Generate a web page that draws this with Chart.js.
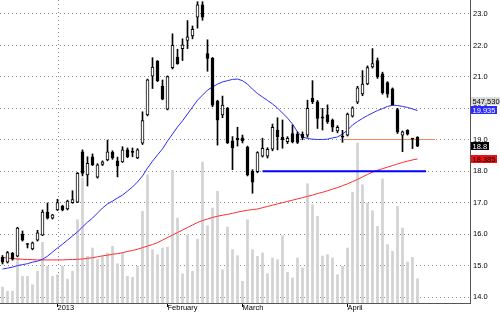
<!DOCTYPE html>
<html lang="en">
<head>
<meta charset="UTF-8">
<title>Daily price chart</title>
<script src="https://cdn.jsdelivr.net/npm/chart.js"></script>
<style>
  html, body { margin: 0; padding: 0; background: #fff; }
</style>
</head>
<body>
<canvas id="chart" width="500" height="312"></canvas>
<script>
// month boundaries on the date axis (index of first session)
const monthLabels = ['2013', 'February', 'March', 'April'];
const monthStart = [11, 33, 48, 69];
const priceTicks = [14, 15, 16, 17, 18, 19, 20, 21, 22, 23];

const opens = [15.27, 15.11, 15.39, 15.30, 16.00, 15.69, 15.53, 15.81, 15.97, 16.70,
  16.51, 16.77, 16.89, 16.80, 17.00, 17.02, 18.62, 17.88, 18.46, 17.81,
  18.22, 18.36, 18.61, 18.33, 18.30, 18.68, 18.62, 18.42, 18.89, 19.79,
  21.02, 21.50, 20.71, 19.97, 21.29, 21.63, 21.90, 22.16, 22.30, 22.90,
  23.29, 21.74, 21.59, 20.23, 19.79, 20.00, 18.97, 19.05, 19.06, 18.77,
  18.00, 17.99, 18.48, 18.48, 18.70, 19.31, 19.08, 18.94, 19.20, 19.18,
  19.17, 19.15, 20.32, 20.21, 19.73, 19.79, 19.63, 19.28, 19.12, 19.15,
  19.75, 20.20, 20.46, 20.78, 21.32, 21.52, 21.10, 20.82, 20.62, 19.96,
  19.15, 19.30, 19.04, 19.08];
const highs = [15.32, 15.45, 15.42, 16.22, 16.10, 15.70, 15.75, 16.12, 16.77, 16.99,
  16.63, 17.11, 16.92, 17.08, 17.38, 17.96, 18.68, 18.46, 18.55, 18.24,
  18.33, 18.99, 18.65, 18.45, 18.78, 18.74, 18.74, 18.72, 19.89, 20.93,
  21.61, 21.52, 20.90, 21.03, 22.37, 21.88, 22.21, 22.79, 22.62, 23.39,
  23.39, 22.18, 21.62, 20.26, 20.39, 20.03, 19.10, 19.40, 19.15, 18.80,
  18.05, 18.62, 19.05, 18.75, 19.50, 19.70, 19.63, 19.10, 19.47, 19.25,
  19.25, 20.26, 20.88, 20.25, 20.00, 20.11, 19.66, 19.45, 19.30, 19.85,
  20.05, 20.70, 21.20, 21.35, 21.90, 21.60, 21.15, 20.85, 20.65, 20.00,
  19.28, 19.32, 19.05, 19.10];
const lows = [15.05, 15.08, 15.17, 15.28, 15.78, 15.56, 15.50, 15.78, 15.95, 16.48,
  16.48, 16.75, 16.74, 16.77, 16.98, 17.00, 17.85, 17.53, 18.18, 17.78,
  18.18, 18.33, 18.38, 17.82, 18.28, 18.43, 18.46, 18.40, 18.85, 19.76,
  20.63, 20.85, 20.27, 19.95, 21.25, 21.40, 21.52, 21.90, 22.21, 22.55,
  22.80, 21.18, 20.05, 18.83, 19.70, 18.88, 18.05, 18.80, 18.90, 17.85,
  17.30, 17.95, 18.45, 18.42, 18.65, 18.68, 18.73, 18.88, 18.90, 18.88,
  19.00, 19.08, 20.15, 19.36, 19.31, 19.52, 19.26, 19.22, 18.92, 19.12,
  19.72, 20.15, 20.40, 20.75, 21.28, 20.95, 20.45, 20.35, 20.10, 19.20,
  18.62, 19.15, 18.72, 18.78];
const closes = [15.11, 15.41, 15.20, 16.19, 15.81, 15.67, 15.72, 16.04, 16.70, 16.51,
  16.61, 17.00, 16.77, 17.05, 17.10, 17.93, 17.93, 18.25, 18.20, 18.20,
  18.30, 18.62, 18.42, 18.17, 18.68, 18.46, 18.60, 18.68, 19.61, 20.91,
  21.31, 20.88, 20.29, 21.01, 22.00, 21.42, 22.02, 22.27, 22.51, 23.29,
  22.90, 21.59, 20.10, 19.62, 20.10, 18.90, 18.74, 19.00, 18.96, 17.88,
  17.65, 18.59, 18.73, 18.70, 19.40, 19.10, 19.00, 19.05, 18.93, 18.92,
  19.07, 20.00, 20.21, 19.68, 19.69, 19.57, 19.40, 19.40, 19.08, 19.82,
  20.02, 20.65, 20.77, 21.30, 21.42, 21.00, 20.50, 20.45, 20.12, 19.25,
  19.25, 19.18, 19.02, 18.80];
const volumes = [360000, 264000, 264000, 1014000, 602000, 602000, 412000, 714000, 1368000, 827000,
  602000, 638000, 827000, 541000, 714000, 1877000, 2816000, 1052000, 1239000, 976000,
  1052000, 1127000, 1277000, 885000, 1127000, 602000, 579000, 827000, 2066000, 2891000,
  1201000, 1088000, 1239000, 1262000, 2990000, 1915000, 660000, 1539000, 714000, 1442000,
  3177000, 1742000, 2140000, 2517000, 750000, 1712000, 1201000, 1066000, 489000, 1877000,
  1201000, 1052000, 1127000, 660000, 1014000, 976000, 1516000, 692000, 563000, 1014000,
  789000, 2688000, 2215000, 1953000, 1059000, 1093000, 1014000, 638000, 827000, 1239000,
  2494000, 3605000, 2665000, 2253000, 2080000, 1728000, 2794000, 1314000, 1165000, 2179000,
  1690000, 924000, 1030000, 547530];
// moving averages as drawn (blue = short, red = long)
const maShort = [14.89, 14.92, 14.95, 15.00, 15.03, 15.06, 15.11, 15.14, 15.20, 15.30,
  15.43, 15.56, 15.68, 15.81, 15.94, 16.07, 16.23, 16.38, 16.51, 16.67,
  16.83, 16.96, 17.05, 17.15, 17.24, 17.37, 17.50, 17.66, 17.85, 18.10,
  18.32, 18.52, 18.71, 18.96, 19.18, 19.41, 19.60, 19.82, 20.04, 20.26,
  20.42, 20.58, 20.68, 20.77, 20.84, 20.88, 20.92, 20.93, 20.88, 20.77,
  20.61, 20.47, 20.36, 20.25, 20.14, 20.01, 19.85, 19.69, 19.50, 19.25,
  19.09, 19.04, 19.02, 19.01, 19.01, 19.02, 19.06, 19.09, 19.18, 19.31,
  19.47, 19.58, 19.68, 19.77, 19.85, 19.93, 19.99, 20.06, 20.10, 20.09,
  20.06, 20.03, 19.98, 19.93];
const maLong = [15.26, 15.24, 15.22, 15.21, 15.20, 15.19, 15.19, 15.18, 15.18, 15.18,
  15.18, 15.18, 15.18, 15.19, 15.19, 15.20, 15.21, 15.23, 15.25, 15.28,
  15.31, 15.33, 15.36, 15.38, 15.41, 15.45, 15.48, 15.52, 15.57, 15.62,
  15.67, 15.73, 15.81, 15.89, 15.97, 16.05, 16.13, 16.21, 16.29, 16.37,
  16.43, 16.48, 16.53, 16.57, 16.60, 16.63, 16.66, 16.70, 16.73, 16.76,
  16.78, 16.80, 16.84, 16.88, 16.92, 16.96, 17.00, 17.04, 17.08, 17.12,
  17.16, 17.20, 17.24, 17.29, 17.33, 17.38, 17.43, 17.48, 17.54, 17.60,
  17.67, 17.74, 17.82, 17.90, 17.97, 18.03, 18.08, 18.13, 18.18, 18.23,
  18.28, 18.32, 18.36, 18.39];

// drawn trend lines: [from index, to index], level
const supportSpan = [52, 84.7];
const supportLevel = 18.0;
const resistSpan = [68.5, 86.5];
const resistLevel = 19.01;

// value tags on the right edge
const tagValues = [19.935, 18.8, 18.385];
const tagColors = ['#2a2aff', '#000000', '#ee1111'];
const tagText = ['#ffffff', '#ffffff', '#000000'];

const FONT = "'Liberation Sans', Arial, sans-serif";
const idx = opens.map((_, i) => i);

const overlay = {
  id: 'overlay',
  beforeDatasetsDraw(chart) {
    const { ctx, chartArea, scales } = chart;
    // dotted year line
    const x = Math.round(scales.x.getPixelForValue(monthStart[0])) + 0.5;
    ctx.save();
    ctx.strokeStyle = '#8c8c8c';
    ctx.setLineDash([1, 3]);
    ctx.beginPath();
    ctx.moveTo(x, chartArea.top);
    ctx.lineTo(x, chartArea.bottom);
    ctx.stroke();
    ctx.restore();
  },
  afterDraw(chart) {
    const { ctx, chartArea, scales } = chart;
    ctx.save();
    ctx.font = '7.5px ' + FONT;
    ctx.textBaseline = 'middle';
    const left = chartArea.right + 1;
    const drawTag = (y, text, bg, fg) => {
      const w = Math.ceil(ctx.measureText(text).width) + 3;
      ctx.fillStyle = bg;
      ctx.fillRect(left, Math.round(y - 4), w, 8);
      ctx.fillStyle = fg;
      ctx.fillText(text, left + 1.5, y + 0.5);
    };
    const yFirst = scales.y.getPixelForValue(tagValues[0]);
    drawTag(yFirst - 9, volumes[volumes.length - 1].toLocaleString('en-US'), '#dcdcdc', '#000');
    tagValues.forEach((v, i) => {
      drawTag(scales.y.getPixelForValue(v), String(v), tagColors[i], tagText[i]);
    });
    ctx.restore();
  }
};

new Chart(document.getElementById('chart'), {
  type: 'bar',
  data: {
    datasets: [
      {
        // candle bodies
        data: idx.map(i => ({ x: i, y: [opens[i], closes[i]] })),
        backgroundColor: c => closes[c.dataIndex] >= opens[c.dataIndex] ? '#ffffff' : '#000000',
        borderColor: '#000000',
        borderWidth: 1,
        borderSkipped: false,
        barThickness: 3,
        maxBarThickness: 3,
        minBarLength: 1,
        grouped: false,
        order: 1
      },
      {
        // wicks
        data: idx.map(i => ({ x: i, y: [lows[i], highs[i]] })),
        backgroundColor: '#000000',
        barThickness: 1,
        maxBarThickness: 1,
        grouped: false,
        order: 2
      },
      {
        type: 'line',
        data: idx.map(i => ({ x: i, y: maShort[i] })),
        borderColor: '#2b2bff',
        borderWidth: 1,
        pointRadius: 0,
        order: 3
      },
      {
        type: 'line',
        data: idx.map(i => ({ x: i, y: maLong[i] })),
        borderColor: '#ff2b2b',
        borderWidth: 1,
        pointRadius: 0,
        order: 4
      },
      {
        type: 'line',
        data: supportSpan.map(x => ({ x: x, y: supportLevel })),
        borderColor: '#0000ff',
        borderWidth: 2,
        pointRadius: 0,
        order: 3
      },
      {
        type: 'line',
        data: resistSpan.map(x => ({ x: x, y: resistLevel })),
        borderColor: '#f08a5a',
        borderWidth: 1,
        pointRadius: 0,
        order: 3
      },
      {
        // volume
        yAxisID: 'vol',
        data: idx.map(i => ({ x: i, y: volumes[i] })),
        backgroundColor: '#d2d2d2',
        barThickness: 2,
        maxBarThickness: 2,
        grouped: false,
        order: 10
      }
    ]
  },
  options: {
    responsive: false,
    animation: false,
    layout: { padding: 0 },
    plugins: { legend: { display: false }, tooltip: { enabled: false } },
    scales: {
      x: {
        type: 'linear',
        min: -0.5,
        max: 93.5,
        offset: false,
        afterBuildTicks: s => { s.ticks = monthStart.map(v => ({ value: v })); },
        afterFit: s => { s.height = 9; s.paddingLeft = 0; s.paddingRight = 0; },
        grid: { drawOnChartArea: false, drawTicks: true, tickLength: 4, color: '#000', offset: false },
        border: { display: true, color: '#555' },
        ticks: {
          autoSkip: false,
          maxRotation: 0,
          align: 'start',
          padding: -4,
          color: '#000',
          font: { family: FONT, size: 7.5 },
          callback: (v, i) => monthLabels[i]
        }
      },
      y: {
        position: 'right',
        min: 13.81,
        max: 23.445,
        beginAtZero: false,
        afterBuildTicks: s => { s.ticks = priceTicks.map(v => ({ value: v })); },
        afterFit: s => { s.width = 30; s.paddingTop = 0; s.paddingBottom = 0; },
        grid: { color: '#8c8c8c', drawTicks: false, lineWidth: 1 },
        border: { display: true, color: '#555', dash: [1, 3] },
        ticks: {
          padding: 3,
          color: '#000',
          font: { family: FONT, size: 7.5 },
          callback: v => v.toFixed(1)
        }
      },
      vol: {
        display: false,
        min: 0,
        max: 6830000
      }
    }
  },
  plugins: [overlay]
});
</script>
</body>
</html>
